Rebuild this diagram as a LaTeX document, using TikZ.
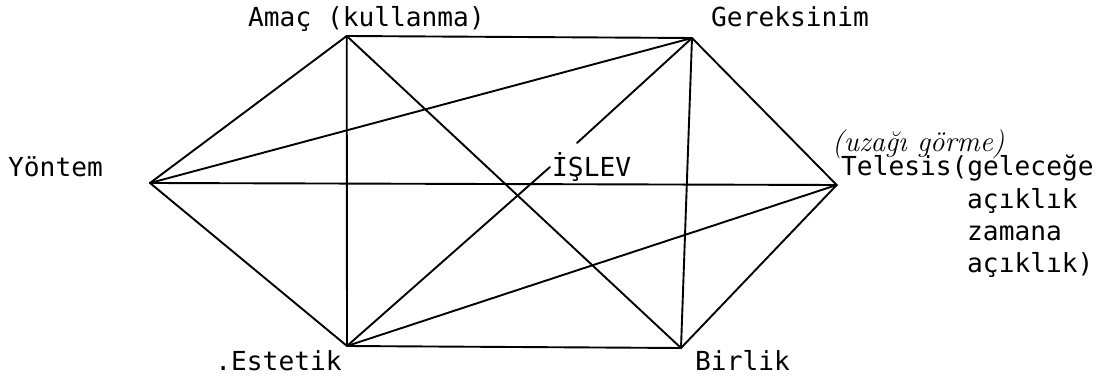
\documentclass[tikz,border=0pt]{standalone}
\usepackage{fontspec}
\newfontfamily\lblfont{DejaVu Sans Mono}
\begin{document}
\begin{tikzpicture}[x=1pt,y=-1pt,
  edge/.style={line width=1.9pt, line cap=round},
  lbl/.style={inner sep=0pt, anchor=base west, font=\lblfont\fontsize{26.2}{32}\selectfont},
  hand/.style={inner sep=0pt, anchor=base west, font=\fontsize{29}{29}\selectfont\itshape}]
\useasboundingbox (0,0) rectangle (1111,379);
% vertices
\coordinate (A) at (346.7,36);
\coordinate (G) at (692,38);
\coordinate (Y) at (150,183);
\coordinate (T) at (836.7,185);
\coordinate (E) at (347,346);
\coordinate (B) at (681,348);
\coordinate (islG) at (577,143);
\coordinate (islE) at (550,167);
% labels
\node[lbl] (lA) at (248,27) {Amaç (kullanma)};
\node[lbl] (lG) at (711,27) {Gereksinim};
\node[lbl] (lY) at (8,177) {Yöntem};
\node[lbl] (lI) at (552,177) {İŞLEV};
\node[lbl] (lT) at (841,176) {Telesis(geleceğe};
\node[lbl] (lT2) at (967,209) {açıklık};
\node[lbl] (lT3) at (967,241) {zamana};
\node[lbl] (lT4) at (967,273) {açıklık)};
\node[lbl] (lE) at (231,370) {\makebox[0pt][r]{.}Estetik};
\node[lbl] (lB) at (695,370) {Birlik};
\node[hand] (lH) at (832,152) {(uzağı görme)};
% edges
\draw[edge] (A) -- (G);
\draw[edge] (A) -- (Y);
\draw[edge] (A) -- (E);
\draw[edge] (A) -- (B);
\draw[edge] (G) -- (Y);
\draw[edge] (G) -- (T);
\draw[edge] (G) -- (B);
\draw[edge] (G) -- (islG);
\draw[edge] (Y) -- (T);
\draw[edge] (Y) -- (E);
\draw[edge] (E) -- (B);
\draw[edge] (E) -- (T);
\draw[edge] (E) -- (islE);
\draw[edge] (T) -- (B);
\end{tikzpicture}
\end{document}
